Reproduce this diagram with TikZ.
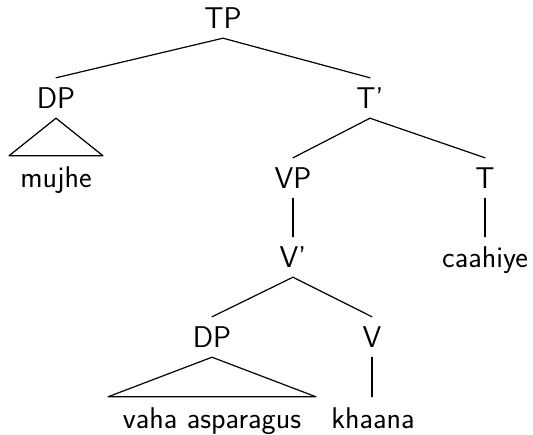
\documentclass[tikz,border=0pt]{standalone}
\begin{document}
\begin{tikzpicture}[x=1pt,y=-1pt,
  lbl/.style={anchor=base,inner sep=0pt,text height=21pt,text depth=0pt,
    font=\sffamily\fontsize{30}{36}\selectfont},
  edge/.style={line width=1.2pt,line cap=round},
  line join=round]
\useasboundingbox (0,0) rectangle (533,434);
% nodes (anchored at baseline)
\node[lbl] (tp)   at (223,28)  {TP};
\node[lbl] (dp1)  at (56,108)  {DP};
\node[lbl] (tbar) at (370,108) {T'};
\node[lbl] (mujhe) at (56,187) {mujhe};
\node[lbl] (vp)   at (293,188) {VP};
\node[lbl] (t)    at (485,188) {T};
\node[lbl] (vbar) at (293,267) {V'};
\node[lbl] (caahiye) at (485,267) {caahiye};
\node[lbl] (dp2)  at (212,347) {DP};
\node[lbl] (v)    at (372,347) {V};
\node[lbl] (vaha) at (212,428) {vaha asparagus};
\node[lbl] (khaana) at (373,428) {khaana};
% connectors
\draw[edge] ([yshift=-10pt]tp.south) -- ([yshift=9pt]dp1.north);
\draw[edge] ([yshift=-10pt]tp.south) -- ([yshift=9pt]tbar.north);
\draw[edge] ([yshift=-10pt]tbar.south) -- ([yshift=9pt]vp.north);
\draw[edge] ([yshift=-10pt]tbar.south) -- ([yshift=9pt]t.north);
\draw[edge] ([yshift=-10pt]vp.south) -- ([yshift=9pt]vp.south |- vbar.north);
\draw[edge] ([yshift=-10pt]t.south) -- ([yshift=9pt]t.south |- caahiye.north);
\draw[edge] ([yshift=-10pt]vbar.south) -- ([yshift=9pt]dp2.north);
\draw[edge] ([yshift=-10pt]vbar.south) -- ([yshift=9pt]v.north);
\draw[edge] ([yshift=-10pt]v.south) -- ([yshift=10pt]v.south |- khaana.north);
% triangles
\draw[edge] ([yshift=-10pt]dp1.south) -- ([xshift=-47pt,yshift=10pt]dp1.south |- mujhe.north)
  -- ([xshift=47pt,yshift=10pt]dp1.south |- mujhe.north) -- cycle;
\draw[edge] ([yshift=-10pt]dp2.south) -- ([xshift=-104pt,yshift=10pt]dp2.south |- vaha.north)
  -- ([xshift=104pt,yshift=10pt]dp2.south |- vaha.north) -- cycle;
\end{tikzpicture}
\end{document}
